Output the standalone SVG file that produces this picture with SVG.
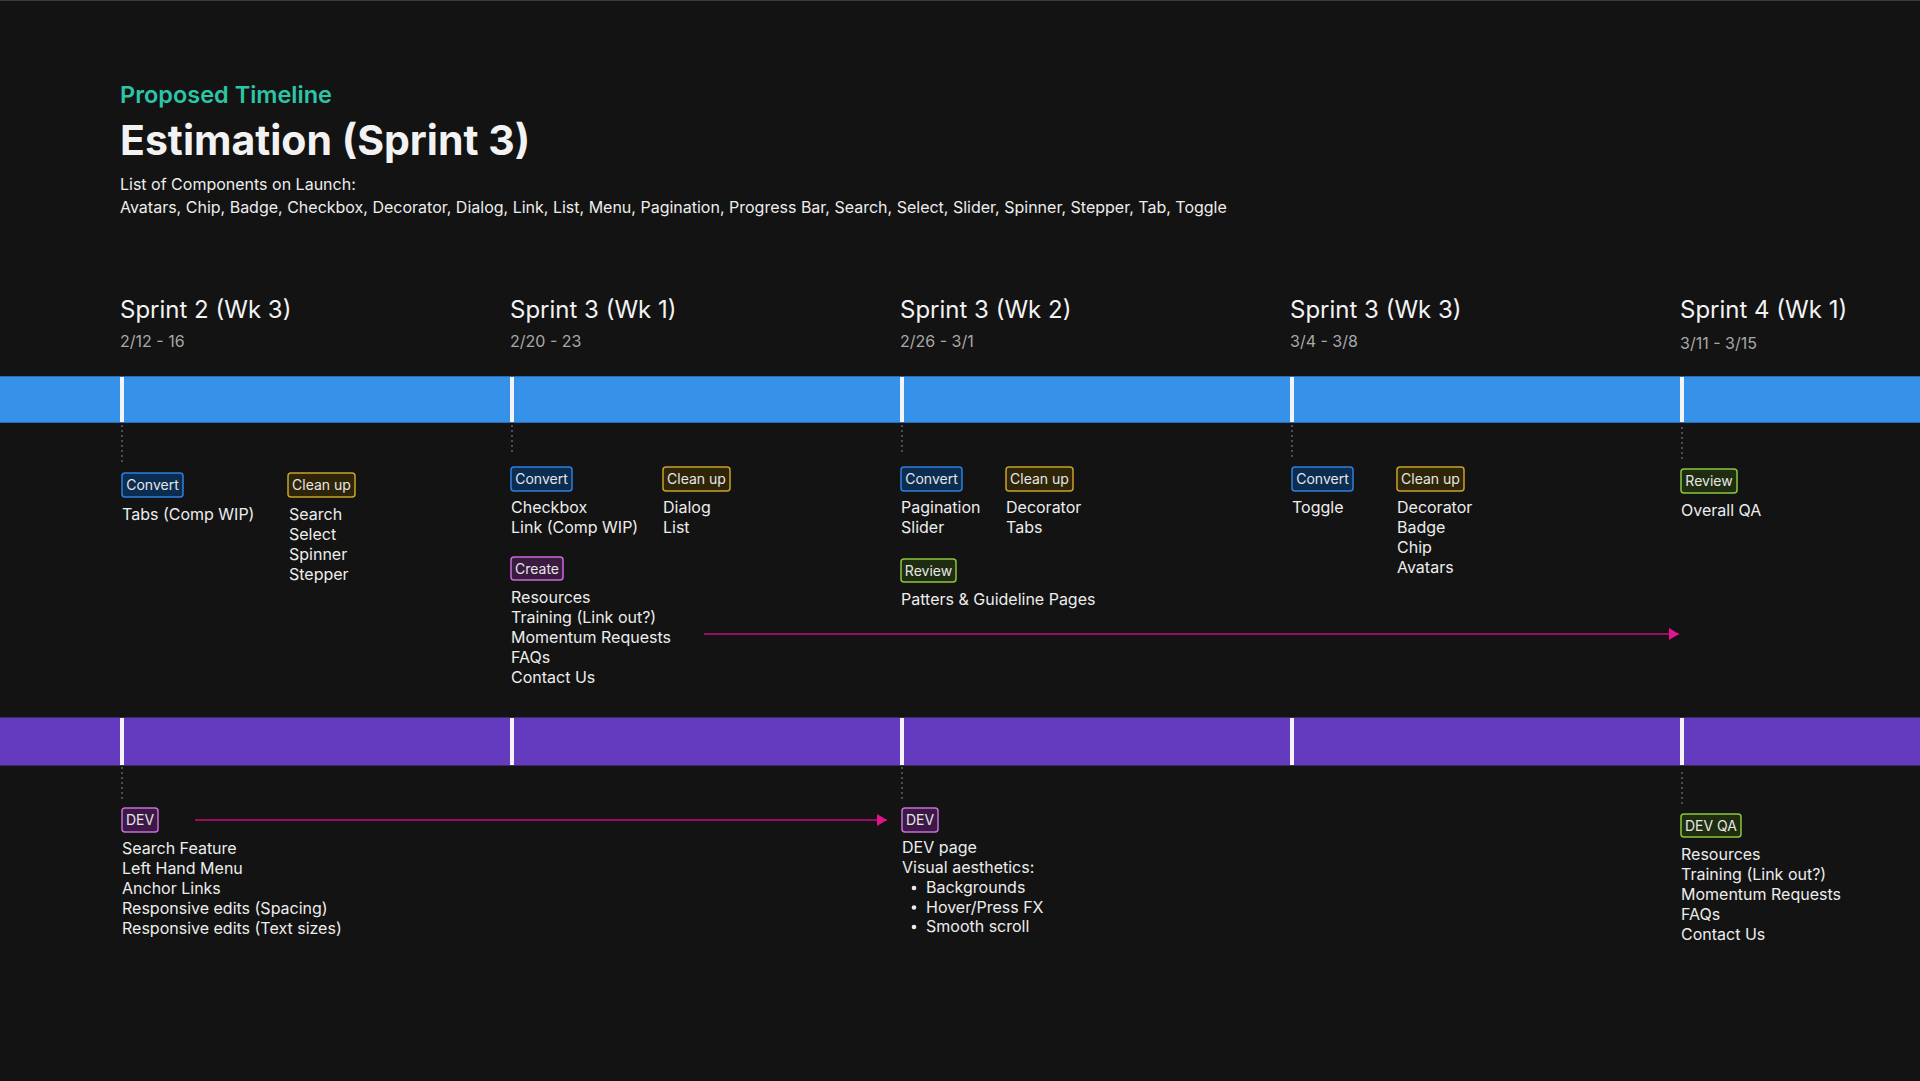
<svg xmlns="http://www.w3.org/2000/svg" width="1920" height="1081" viewBox="0 0 1920 1081">
  <defs>
    <style>
      text { font-family: Inter, "Liberation Sans", sans-serif; }
      .body { font-size: 16px; fill: #ededed; }
      .head { font-size: 24px; fill: #f2f2f2; }
      .date { font-size: 16px; fill: #a8a8a8; }
      .btxt { font-size: 14px; fill: #e6e6e6; text-anchor: middle; }
      .dot { stroke: #8a8a8a; stroke-width: 1; stroke-dasharray: 2 3; fill: none; }
      .tick { fill: #f4f4f8; }
      .convert { fill: #0c2d52; stroke: #2f7fdc; stroke-width: 1.5; }
      .cleanup { fill: #2e2508; stroke: #c9a227; stroke-width: 1.5; }
      .create { fill: #3a1a40; stroke: #c86ed8; stroke-width: 1.5; }
      .review { fill: #1e2c10; stroke: #8cc63f; stroke-width: 1.5; }
      .dev { fill: #3c1846; stroke: #c86ed8; stroke-width: 1.5; }
      .arrow { stroke: #9a0d5f; stroke-width: 2; fill: none; }
    </style>
    <marker id="ah" markerUnits="userSpaceOnUse" markerWidth="10" markerHeight="12" refX="10" refY="6" orient="auto">
      <path d="M0,0 L10,6 L0,12 Z" fill="#e0148c"/>
    </marker>
  </defs>

  <rect x="0" y="0" width="1920" height="1081" fill="#131313"/>
  <rect x="0" y="0" width="1920" height="1" fill="#3a3a3a"/>

  <g id="header">
    <text x="120" y="103" font-size="23.5" font-weight="600" fill="#2cc5a6">Proposed Timeline</text>
    <text x="120" y="155" font-size="41" font-weight="700" fill="#f2f2f2">Estimation (Sprint 3)</text>
    <text x="120" y="190" class="body" fill="#e6e6e6">List of Components on Launch:</text>
    <text x="120" y="213" class="body" fill="#e6e6e6">Avatars, Chip, Badge, Checkbox, Decorator, Dialog, Link, List, Menu, Pagination, Progress Bar, Search, Select, Slider, Spinner, Stepper, Tab, Toggle</text>
  </g>

  <g id="sprint-headings">
    <text x="120" y="318" class="head">Sprint 2 (Wk 3)</text>
    <text x="120" y="347" class="date">2/12 - 16</text>
    <text x="510" y="318" class="head">Sprint 3 (Wk 1)</text>
    <text x="510" y="347" class="date">2/20 - 23</text>
    <text x="900" y="318" class="head">Sprint 3 (Wk 2)</text>
    <text x="900" y="347" class="date">2/26 - 3/1</text>
    <text x="1290" y="318" class="head">Sprint 3 (Wk 3)</text>
    <text x="1290" y="347" class="date">3/4 - 3/8</text>
    <text x="1680" y="318" class="head">Sprint 4 (Wk 1)</text>
    <text x="1680" y="349" class="date">3/11 - 3/15</text>
  </g>

  <g id="design-bar">
    <rect x="0" y="376" width="1920" height="47" fill="#3592e8"/>
    <rect x="0" y="376" width="1920" height="1" fill="#2a6db0"/>
    <rect x="0" y="422" width="1920" height="1" fill="#2a6db0"/>
    <rect class="tick" x="120" y="377" width="4" height="45"/>
    <rect class="tick" x="510" y="377" width="4" height="45"/>
    <rect class="tick" x="900" y="377" width="4" height="45"/>
    <rect class="tick" x="1290" y="377" width="4" height="45"/>
    <rect class="tick" x="1680" y="377" width="4" height="45"/>
    <line class="dot" x1="122" y1="425" x2="122" y2="463"/>
    <line class="dot" x1="512" y1="425" x2="512" y2="455"/>
    <line class="dot" x1="902" y1="425" x2="902" y2="455"/>
    <line class="dot" x1="1292" y1="425" x2="1292" y2="458"/>
    <line class="dot" x1="1682" y1="427" x2="1682" y2="460"/>
  </g>

  <g id="dev-bar">
    <rect x="0" y="717" width="1920" height="49" fill="#643bbf"/>
    <rect x="0" y="717" width="1920" height="1" fill="#3b2a66"/>
    <rect x="0" y="765" width="1920" height="1" fill="#3b2a66"/>
    <rect class="tick" x="120" y="718" width="4" height="47"/>
    <rect class="tick" x="510" y="718" width="4" height="47"/>
    <rect class="tick" x="900" y="718" width="4" height="47"/>
    <rect class="tick" x="1290" y="718" width="4" height="47"/>
    <rect class="tick" x="1680" y="718" width="4" height="47"/>
    <line class="dot" x1="122" y1="767" x2="122" y2="800"/>
    <line class="dot" x1="902" y1="767" x2="902" y2="800"/>
    <line class="dot" x1="1682" y1="772" x2="1682" y2="806"/>
  </g>

  <g id="s2-convert">
    <rect class="convert" x="122" y="473" width="61" height="24" rx="3"/>
    <text class="btxt" x="152.5" y="490">Convert</text>
    <text class="body" x="122" y="520">Tabs (Comp WIP)</text>
  </g>
  <g id="s2-cleanup">
    <rect class="cleanup" x="288" y="473" width="67" height="24" rx="3"/>
    <text class="btxt" x="321.5" y="490">Clean up</text>
    <text class="body" x="289" y="520">Search</text>
    <text class="body" x="289" y="540">Select</text>
    <text class="body" x="289" y="560">Spinner</text>
    <text class="body" x="289" y="580">Stepper</text>
  </g>

  <g id="s3w1-convert">
    <rect class="convert" x="511" y="467" width="61" height="24" rx="3"/>
    <text class="btxt" x="541.5" y="484">Convert</text>
    <text class="body" x="511" y="513">Checkbox</text>
    <text class="body" x="511" y="533">Link (Comp WIP)</text>
  </g>
  <g id="s3w1-cleanup">
    <rect class="cleanup" x="663" y="467" width="67" height="24" rx="3"/>
    <text class="btxt" x="696.5" y="484">Clean up</text>
    <text class="body" x="663" y="513">Dialog</text>
    <text class="body" x="663" y="533">List</text>
  </g>
  <g id="s3w1-create">
    <rect class="create" x="511" y="557" width="52" height="23" rx="3"/>
    <text class="btxt" x="537" y="573.5">Create</text>
    <text class="body" x="511" y="603">Resources</text>
    <text class="body" x="511" y="623">Training (Link out?)</text>
    <text class="body" x="511" y="643">Momentum Requests</text>
    <text class="body" x="511" y="663">FAQs</text>
    <text class="body" x="511" y="683">Contact Us</text>
  </g>

  <g id="s3w2-convert">
    <rect class="convert" x="901" y="467" width="61" height="24" rx="3"/>
    <text class="btxt" x="931.5" y="484">Convert</text>
    <text class="body" x="901" y="513">Pagination</text>
    <text class="body" x="901" y="533">Slider</text>
  </g>
  <g id="s3w2-cleanup">
    <rect class="cleanup" x="1006" y="467" width="67" height="24" rx="3"/>
    <text class="btxt" x="1039.5" y="484">Clean up</text>
    <text class="body" x="1006" y="513">Decorator</text>
    <text class="body" x="1006" y="533">Tabs</text>
  </g>
  <g id="s3w2-review">
    <rect class="review" x="901" y="559" width="55" height="23" rx="3"/>
    <text class="btxt" x="928.5" y="575.5">Review</text>
    <text class="body" x="901" y="605">Patters &amp; Guideline Pages</text>
  </g>

  <g id="s3w3-convert">
    <rect class="convert" x="1292" y="467" width="61" height="24" rx="3"/>
    <text class="btxt" x="1322.5" y="484">Convert</text>
    <text class="body" x="1292" y="513">Toggle</text>
  </g>
  <g id="s3w3-cleanup">
    <rect class="cleanup" x="1397" y="467" width="67" height="24" rx="3"/>
    <text class="btxt" x="1430.5" y="484">Clean up</text>
    <text class="body" x="1397" y="513">Decorator</text>
    <text class="body" x="1397" y="533">Badge</text>
    <text class="body" x="1397" y="553">Chip</text>
    <text class="body" x="1397" y="573">Avatars</text>
  </g>

  <g id="s4-review">
    <rect class="review" x="1681" y="469" width="56" height="24" rx="3"/>
    <text class="btxt" x="1709" y="486">Review</text>
    <text class="body" x="1681" y="516">Overall QA</text>
  </g>

  <g id="s2-dev">
    <rect class="dev" x="122" y="808" width="36" height="24" rx="3"/>
    <text class="btxt" x="140" y="825">DEV</text>
    <text class="body" x="122" y="854">Search Feature</text>
    <text class="body" x="122" y="874">Left Hand Menu</text>
    <text class="body" x="122" y="894">Anchor Links</text>
    <text class="body" x="122" y="914">Responsive edits (Spacing)</text>
    <text class="body" x="122" y="934">Responsive edits (Text sizes)</text>
  </g>

  <g id="s3w2-dev">
    <rect class="dev" x="902" y="808" width="36" height="24" rx="3"/>
    <text class="btxt" x="920" y="825">DEV</text>
    <text class="body" x="902" y="853">DEV page</text>
    <text class="body" x="902" y="873">Visual aesthetics:</text>
    <circle cx="914" cy="888" r="2.3" fill="#ededed"/>
    <text class="body" x="926" y="893">Backgrounds</text>
    <circle cx="914" cy="907.5" r="2.3" fill="#ededed"/>
    <text class="body" x="926" y="912.5">Hover/Press FX</text>
    <circle cx="914" cy="927" r="2.3" fill="#ededed"/>
    <text class="body" x="926" y="932">Smooth scroll</text>
  </g>

  <g id="s4-devqa">
    <rect class="review" x="1681" y="814" width="60" height="23" rx="3"/>
    <text class="btxt" x="1711" y="830.5">DEV QA</text>
    <text class="body" x="1681" y="860">Resources</text>
    <text class="body" x="1681" y="880">Training (Link out?)</text>
    <text class="body" x="1681" y="900">Momentum Requests</text>
    <text class="body" x="1681" y="920">FAQs</text>
    <text class="body" x="1681" y="940">Contact Us</text>
  </g>

  <g id="connectors">
    <line class="arrow" x1="704" y1="634" x2="1679" y2="634" marker-end="url(#ah)"/>
    <line class="arrow" x1="195" y1="820" x2="887" y2="820" marker-end="url(#ah)"/>
  </g>
</svg>
